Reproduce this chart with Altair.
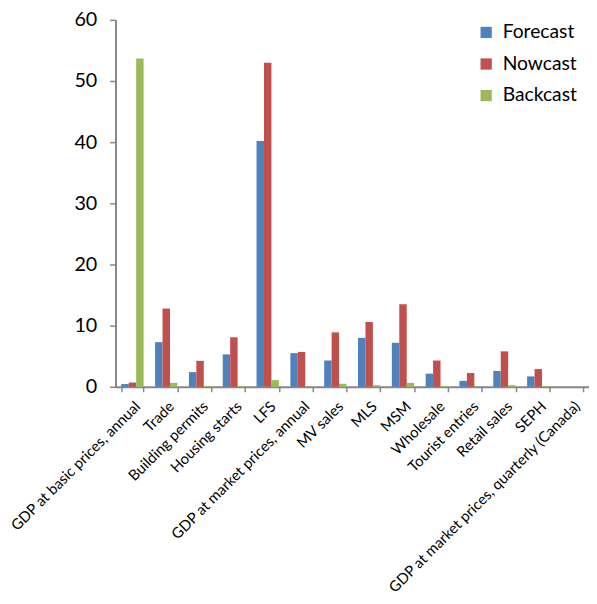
import altair as alt
import pandas as pd

categories = [
    "GDP at basic prices, annual", "Trade", "Building permits", "Housing starts",
    "LFS", "GDP at market prices, annual", "MV sales", "MLS", "MSM", "Wholesale",
    "Tourist entries", "Retail sales", "SEPH", "GDP at market prices, quarterly (Canada)",
]
series = ["Forecast", "Nowcast", "Backcast"]
forecast = [0.45, 7.3, 2.4, 5.3, 40.2, 5.5, 4.3, 8.0, 7.2, 2.15, 0.97, 2.6, 1.7, 0.0]
nowcast = [0.7, 12.8, 4.25, 8.1, 53.0, 5.7, 8.9, 10.6, 13.5, 4.3, 2.25, 5.8, 2.9, 0.0]
backcast = [53.7, 0.65, 0.15, 0.15, 1.1, 0.05, 0.5, 0.27, 0.65, 0.15, 0.05, 0.27, 0.15, 0.0]
colors = ["#4F81BD", "#C0504D", "#9BBB59"]

rows = []
for s, vals in zip(series, [forecast, nowcast, backcast]):
    for c, v in zip(categories, vals):
        rows.append({"category": c, "series": s, "value": v})
df = pd.DataFrame(rows)

font = "Lato"

chart = alt.Chart(df).mark_bar().encode(
    x=alt.X("category:N", sort=categories, title=None,
            scale=alt.Scale(paddingInner=0.34, paddingOuter=0.17),
            axis=alt.Axis(labelAngle=-45, labelAlign="right", labelBaseline="top",
                          labelFontSize=15, labelFont=font, labelColor="#000000",
                          labelLimit=400, labelPadding=7, tickBand="extent",
                          tickSize=5, tickColor="#868686", domainColor="#868686",
                          domainWidth=2, tickWidth=1.5)),
    xOffset=alt.XOffset("series:N", sort=series,
                        scale=alt.Scale(paddingInner=0, paddingOuter=0)),
    y=alt.Y("value:Q", title=None,
            scale=alt.Scale(domain=[0, 60]),
            axis=alt.Axis(values=[0, 10, 20, 30, 40, 50, 60], grid=False,
                          labelFontSize=20, labelFont=font, labelColor="#000000",
                          labelPadding=13, tickSize=6, tickColor="#868686",
                          domainColor="#868686", domainWidth=2, tickWidth=1.5)),
    color=alt.Color("series:N", sort=series,
                    scale=alt.Scale(domain=series, range=colors),
                    legend=alt.Legend(title=None, orient="none", legendX=366, legendY=3,
                                      symbolType="square", symbolSize=130,
                                      symbolStrokeWidth=0, labelFontSize=19.5,
                                      labelFont=font, labelColor="#000000",
                                      rowPadding=11, labelOffset=7)),
).properties(
    width=480, height=372,
    autosize=alt.AutoSizeParams(type="none"),
    padding={"left": 109, "top": 8, "right": 0, "bottom": 205},
).configure_view(stroke=None)

chart.save("out.html", embed_options={"renderer": "svg", "actions": False})
